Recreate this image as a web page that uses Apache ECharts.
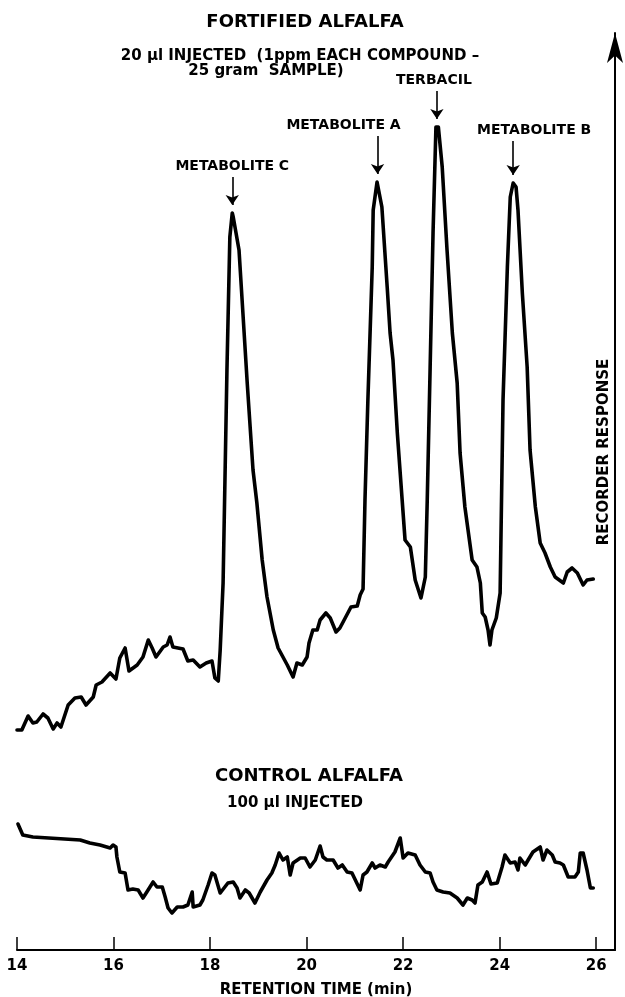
<!DOCTYPE html>
<html>
<head>
<meta charset="utf-8">
<script src="https://cdn.jsdelivr.net/npm/echarts@6/dist/echarts.min.js"></script>
<style>
  html, body { margin: 0; padding: 0; background: #fff; }
  #chart { width: 625px; height: 997px; }
</style>
</head>
<body>
<div id="chart"></div>
<script>
// ---- Data (retention time in min, recorder response in arbitrary units) ----
const fortifiedTime = [14.00,14.10,14.23,14.33,14.41,14.54,14.64,14.75,14.83,14.91,15.06,15.20,15.33,15.43,15.58,15.64,15.76,15.93,16.05,16.13,16.24,16.32,16.49,16.61,16.72,16.80,16.88,17.03,17.11,17.17,17.23,17.44,17.54,17.65,17.79,17.92,18.04,18.10,18.17,18.21,18.27,18.35,18.41,18.46,18.48,18.60,18.77,18.89,18.97,19.08,19.18,19.31,19.41,19.60,19.72,19.80,19.91,20.01,20.05,20.13,20.22,20.28,20.40,20.49,20.61,20.69,20.80,20.92,21.05,21.11,21.17,21.21,21.27,21.36,21.38,21.46,21.50,21.56,21.67,21.73,21.79,21.88,21.98,22.04,22.15,22.25,22.37,22.46,22.50,22.56,22.62,22.68,22.73,22.81,22.91,23.02,23.12,23.18,23.28,23.43,23.53,23.60,23.64,23.70,23.76,23.80,23.84,23.93,24.01,24.07,24.16,24.22,24.28,24.34,24.38,24.47,24.57,24.63,24.74,24.84,24.94,25.05,25.15,25.32,25.40,25.50,25.61,25.73,25.81,25.94];
const fortifiedResponse = [22.0,22.0,23.4,22.7,22.8,23.6,23.2,22.1,22.7,22.3,24.5,25.2,25.3,24.5,25.3,26.5,26.8,27.7,27.1,29.2,30.2,27.9,28.5,29.3,31.0,30.2,29.3,30.3,30.5,31.3,30.3,30.1,28.9,29.0,28.3,28.7,28.9,27.2,26.9,30.0,36.7,58.0,71.3,73.7,73.3,70.0,56.7,48.0,44.7,39.0,35.3,32.0,30.2,28.5,27.3,28.7,28.5,29.3,30.7,32.0,32.0,33.0,33.7,33.2,31.8,32.2,33.2,34.3,34.4,35.5,36.1,45.0,55.0,68.3,74.0,76.8,76.7,74.3,66.3,61.7,59.0,51.7,45.0,41.0,40.3,37.0,35.2,37.3,45.0,58.3,71.7,82.3,82.3,78.3,70.0,61.7,56.7,49.7,44.3,39.0,38.3,36.7,33.7,33.3,32.0,30.5,32.0,33.2,35.7,55.0,68.3,75.3,76.7,76.3,74.0,65.7,58.3,50.0,44.3,40.7,39.7,38.3,37.3,36.7,37.8,38.2,37.7,36.5,37.0,37.1];

const controlTime = [14.02,14.12,14.33,15.31,15.51,15.72,15.93,15.99,16.05,16.07,16.13,16.24,16.30,16.40,16.51,16.61,16.69,16.82,16.90,17.01,17.07,17.13,17.21,17.32,17.44,17.54,17.63,17.65,17.79,17.85,17.96,18.04,18.10,18.21,18.29,18.37,18.48,18.56,18.62,18.73,18.81,18.93,19.04,19.18,19.28,19.35,19.43,19.51,19.60,19.66,19.72,19.87,19.97,20.07,20.18,20.28,20.34,20.42,20.55,20.65,20.74,20.84,20.94,21.01,21.11,21.17,21.25,21.36,21.42,21.52,21.63,21.69,21.83,21.94,22.00,22.10,22.25,22.35,22.46,22.56,22.62,22.70,22.83,22.97,23.12,23.24,23.33,23.43,23.49,23.55,23.64,23.74,23.82,23.95,24.05,24.11,24.22,24.32,24.38,24.42,24.53,24.59,24.69,24.84,24.90,24.98,25.09,25.15,25.25,25.32,25.42,25.56,25.63,25.67,25.73,25.81,25.88,25.94];
const controlResponse = [12.6,11.5,11.3,11.0,10.7,10.5,10.2,10.5,10.3,9.3,7.8,7.7,6.0,6.1,6.0,5.2,5.8,6.8,6.3,6.3,5.3,4.2,3.7,4.3,4.3,4.5,5.8,4.3,4.5,5.0,6.5,7.7,7.5,5.7,6.2,6.7,6.8,6.2,5.2,6.0,5.7,4.7,5.8,7.0,7.7,8.5,9.7,9.0,9.3,7.5,8.7,9.2,9.2,8.3,9.0,10.4,9.3,9.0,9.0,8.2,8.5,7.8,7.7,7.0,6.0,7.5,7.8,8.7,8.2,8.5,8.3,8.8,9.8,11.2,9.2,9.7,9.5,8.5,7.8,7.7,6.8,6.0,5.8,5.7,5.2,4.5,5.2,5.0,4.7,6.5,6.8,7.8,6.6,6.7,8.3,9.5,8.7,8.8,8.0,9.2,8.5,9.0,9.8,10.3,9.0,10.0,9.5,8.8,8.7,8.5,7.3,7.3,7.8,9.7,9.7,8.0,6.2,6.2];

const peakNames = ['METABOLITE C', 'METABOLITE A', 'TERBACIL', 'METABOLITE B'];
const peakTimes = [18.46, 21.47, 22.70, 24.28];
const peakResponse = [73.7, 76.8, 82.3, 76.7];

const xTickInterval = 2;

// ---- styling / annotation layout (pixels) ----
const FONT = 'DejaVu Sans';
const arrowLenPx = [28, 38, 28, 34];
const labelShiftPx = [0, -34, -3, 21];
const gapPx = 8;
const unitPerPx = 0.1; // y axis: 0..91.7 over 917 px

function pairs(xs, ys) { return xs.map((x, i) => [x, ys[i]]); }

const arrowData = peakNames.map((n, i) => {
  const shift = labelShiftPx[i];
  const pad = shift >= 0 ? [0, 0, 0, 2 * shift] : [0, -2 * shift, 0, 0];
  return [
    { coord: [peakTimes[i], peakResponse[i] + (gapPx + arrowLenPx[i]) * unitPerPx], name: n,
      label: { padding: pad } },
    { coord: [peakTimes[i], peakResponse[i] + gapPx * unitPerPx] }
  ];
});

const txt = (text, x, y, size, rot) => ({
  type: 'text', x: x, y: y, rotation: rot || 0,
  style: { text: text, fontFamily: FONT, fontSize: size, fontWeight: 'bold', fill: '#000', align: 'center', verticalAlign: 'middle' }
});

const chart = echarts.init(document.getElementById('chart'), null, { renderer: 'canvas' });
chart.setOption({
  backgroundColor: '#ffffff',
  animation: false,
  grid: { left: 17, right: 10, top: 33, bottom: 47, outerBoundsMode: 'none', containLabel: false },
  xAxis: {
    type: 'value', min: 14, max: 26.39, interval: xTickInterval,
    name: 'RETENTION TIME (min)', nameLocation: 'middle', nameGap: 33,
    nameTextStyle: { fontFamily: FONT, fontSize: 15, fontWeight: 'bold', color: '#000' },
    axisLine: { show: true, onZero: false, lineStyle: { color: '#000', width: 2 } },
    axisTick: { show: true, inside: true, length: 13, lineStyle: { color: '#000', width: 1.5 } },
    axisLabel: { show: true, margin: 9, showMaxLabel: false, fontFamily: FONT, fontSize: 15, fontWeight: 'bold', color: '#000',
      formatter: v => (Math.abs(v - Math.round(v)) < 1e-6 && Math.round(v) % 2 === 0) ? String(Math.round(v)) : '' },
    splitLine: { show: false }
  },
  yAxis: {
    type: 'value', position: 'right', min: 0, max: 91.7,
    axisLine: { show: true, onZero: false, symbol: ['none', 'arrow'], symbolSize: [12, 30], lineStyle: { color: '#000', width: 2 } },
    axisTick: { show: false }, axisLabel: { show: false }, splitLine: { show: false }
  },
  series: [
    {
      name: 'Fortified alfalfa', type: 'line', data: pairs(fortifiedTime, fortifiedResponse),
      showSymbol: false, smooth: false,
      lineStyle: { color: '#000', width: 3.6, join: 'round', cap: 'round' },
      markLine: {
        silent: true, symbol: ['none', 'arrow'], symbolSize: 10, precision: 2,
        lineStyle: { color: '#000', width: 1.6, type: 'solid' },
        label: { show: true, position: 'start', formatter: '{b}', distance: 4,
          fontFamily: FONT, fontSize: 14, fontWeight: 'bold', color: '#000' },
        emphasis: { disabled: true },
        data: arrowData
      }
    },
    {
      name: 'Control alfalfa', type: 'line', data: pairs(controlTime, controlResponse),
      showSymbol: false, smooth: false,
      lineStyle: { color: '#000', width: 3.6, join: 'round', cap: 'round' }
    }
  ],
  graphic: [
    txt('FORTIFIED ALFALFA', 305, 22, 18),
    txt('20 μl INJECTED  (1ppm EACH COMPOUND –', 300, 56, 15),
    txt('25 gram  SAMPLE)', 266, 71, 15),
    txt('CONTROL ALFALFA', 309, 776, 18),
    txt('100 μl INJECTED', 295, 803, 15),
    txt('RECORDER RESPONSE', 604, 452, 15, Math.PI / 2)
  ]
});
</script>
</body>
</html>
